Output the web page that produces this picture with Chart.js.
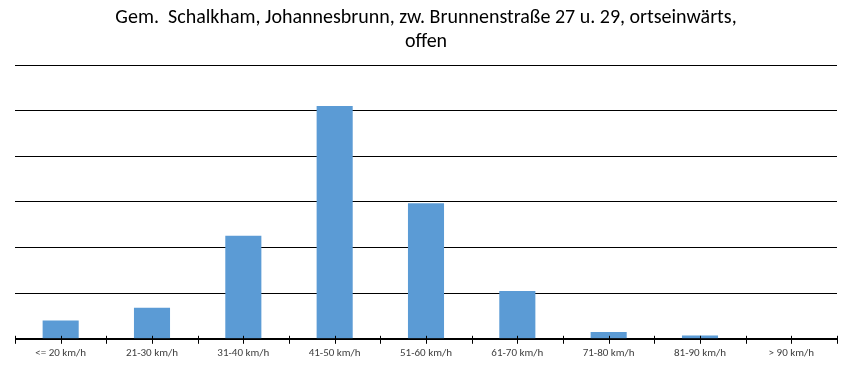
<!DOCTYPE html>
<html>
<head>
<meta charset="utf-8">
<script src="https://cdn.jsdelivr.net/npm/chart.js@4/dist/chart.umd.min.js"></script>
<style>
html,body{margin:0;padding:0;background:#fff;}
#wrap{width:855px;height:369px;position:relative;}
</style>
</head>
<body>
<div id="wrap"><canvas id="c"></canvas></div>
<script>
const titleLines = ["Gem.  Schalkham, Johannesbrunn, zw. Brunnenstraße 27 u. 29, ortseinwärts,", "offen"];
const categories = ["<= 20 km/h", "21-30 km/h", "31-40 km/h", "41-50 km/h", "51-60 km/h", "61-70 km/h", "71-80 km/h", "81-90 km/h", "> 90 km/h"];
const shares = [4.0, 6.8, 22.6, 51.0, 29.7, 10.5, 1.5, 0.7, 0];
const yMax = 60;
const yStep = 10;

const fontFam = "Carlito, 'Liberation Sans Narrow', 'Open Sans', sans-serif";

const halfTicks = {
  id: 'halfTicks',
  afterDraw(chart) {
    const x = chart.scales.x, y = chart.scales.y;
    const ctx = chart.ctx;
    const base = y.getPixelForValue(0);
    const n = categories.length;
    const half = (x.getPixelForValue(1) - x.getPixelForValue(0)) / 2;
    ctx.save();
    ctx.strokeStyle = '#000';
    ctx.lineWidth = 1;
    ctx.beginPath();
    ctx.moveTo(x.left, Math.round(base) + 0.5);
    ctx.lineTo(x.right, Math.round(base) + 0.5);
    for (let i = 0; i < n; i++) {
      const c = x.getPixelForValue(i);
      [c - half, c, ...(i === n - 1 ? [c + half] : [])].forEach(p => {
        const px = Math.round(p) + 0.5;
        ctx.moveTo(px, base - 3);
        ctx.lineTo(px, base + 5);
      });
    }
    ctx.stroke();
    ctx.restore();
  }
};

new Chart(document.getElementById('c'), {
  type: 'bar',
  data: {
    labels: categories,
    datasets: [{
      data: shares,
      backgroundColor: '#5B9BD5',
      borderWidth: 0,
      barPercentage: 0.395,
      categoryPercentage: 1.0
    }]
  },
  options: {
    responsive: true,
    maintainAspectRatio: false,
    animation: false,
    layout: { padding: { left: 15, right: 18, top: 6, bottom: 1 } },
    plugins: {
      legend: { display: false },
      tooltip: { enabled: false },
      title: {
        display: true,
        text: titleLines,
        color: '#000',
        font: { family: fontFam, size: 20, weight: 'normal', lineHeight: 1.2 },
        padding: { top: 0, bottom: 11 }
      }
    },
    scales: {
      x: {
        grid: { display: false, drawTicks: false },
        border: { display: false },
        ticks: {
          color: '#404040',
          font: { family: fontFam, size: 11 },
          padding: 8,
          maxRotation: 0,
          autoSkip: false
        }
      },
      y: {
        min: 0,
        max: yMax,
        grid: { color: '#000', lineWidth: 1, drawTicks: false },
        border: { display: false },
        ticks: { display: false, stepSize: yStep }
      }
    }
  },
  plugins: [halfTicks]
});
</script>
</body>
</html>
